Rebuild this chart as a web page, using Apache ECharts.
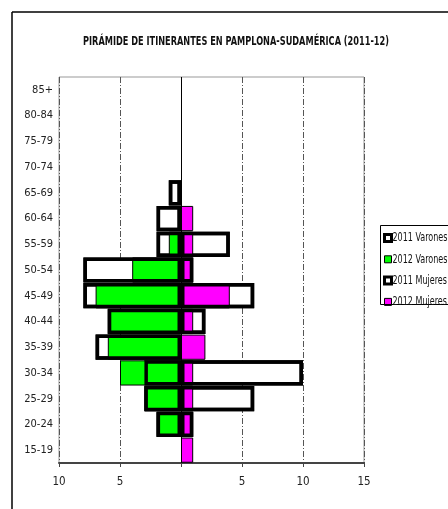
<!DOCTYPE html>
<html>
<head>
<meta charset="utf-8">
<script src="https://cdn.jsdelivr.net/npm/echarts@6/dist/echarts.min.js"></script>
<style>
html,body{margin:0;padding:0;background:#fff;}
#chart{width:448px;height:509px;}
</style>
</head>
<body>
<div id="chart"></div>
<script>
const FONT = "'Liberation Sans Narrow', 'DejaVu Sans Condensed', 'Liberation Sans', Arial, sans-serif";

const titleText = 'PIRÁMIDE DE ITINERANTES EN PAMPLONA-SUDAMÉRICA (2011-12)';
const ageGroups = ['15-19','20-24','25-29','30-34','35-39','40-44','45-49','50-54','55-59','60-64','65-69','70-74','75-79','80-84','85+'];
const varones2011 = [0,2,3,3,7,6,8,8,2,2,1,0,0,0,0];
const varones2012 = [0,2,3,5,6,6,7,4,1,0,0,0,0,0,0];
const mujeres2011 = [0,1,6,10,0,2,6,1,4,0,0,0,0,0,0];
const mujeres2012 = [1,1,1,1,2,1,4,1,1,1,0,0,0,0,0];
const xTicks = [-10,-5,0,5,10,15];
const legendNames = ['2011 Varones','2012 Varones','2011 Mujeres','2012 Mujeres'];

const neg = a => a.map(v => v === 0 ? null : -v);
const pos = a => a.map(v => v === 0 ? null : v);

const mc = document.createElement('canvas').getContext('2d');
function fitScale(text, font, target) {
  mc.font = font;
  return Math.min(1, target / mc.measureText(text).width);
}

const TITLE_FONT = 'bold 13px ' + FONT;
const titleScale = fitScale(titleText, TITLE_FONT, 306);

const LEG_FONT = '12.5px ' + FONT;
const legScale = fitScale('2011 Varones', LEG_FONT, 55);
const legendY = [238, 259.5, 281, 302];

const chart = echarts.init(document.getElementById('chart'), null, {renderer:'canvas'});

const common = {type:'bar', barGap:'-100%', barCategoryGap:'2%'};
const thick = 3.5;

const graphics = [
  {type:'text', x:83, y:42, scaleX:titleScale, z:100,
    style:{text:titleText, x:0, y:0, textAlign:'left', textVerticalAlign:'middle', verticalAlign:'middle',
      font:TITLE_FONT, fill:'#111'}},
  {type:'line', shape:{x1:12, y1:12, x2:448, y2:12}, style:{stroke:'#000', lineWidth:1.5}, z:100},
  {type:'line', shape:{x1:12, y1:12, x2:12, y2:509}, style:{stroke:'#000', lineWidth:1.5}, z:100},
  {type:'rect', shape:{x:380.5, y:225.5, width:100, height:79}, style:{fill:'none', stroke:'#000', lineWidth:1}, z:100}
];
legendNames.forEach((n, i) => {
  graphics.push({type:'text', x:392.5, y:legendY[i], scaleX:legScale, z:100,
    style:{text:n, x:0, y:0, textAlign:'left', textVerticalAlign:'middle', verticalAlign:'middle',
      font:LEG_FONT, fill:'#111'}});
});

const option = {
  animation:false,
  backgroundColor:'#fff',
  legend:{
    orient:'vertical', left:378, top:227, itemWidth:7, itemHeight:7, itemGap:9.3, icon:'rect',
    data:legendNames.map(n => n.indexOf('2011') === 0
      ? {name:n, itemStyle:{color:'#fff', borderColor:'#000', borderWidth:3}}
      : {name:n, itemStyle:{borderWidth:1}}),
    textStyle:{fontFamily:FONT, fontSize:10, color:'rgba(0,0,0,0)', lineHeight:12},
    selectedMode:false
  },
  grid:{left:59, right:84, top:77, bottom:46, show:true, borderColor:'#999', borderWidth:1, containLabel:false},
  xAxis:{
    type:'value', min:xTicks[0], max:xTicks[xTicks.length-1], interval:5,
    axisLine:{show:true, onZero:false, lineStyle:{color:'#444', width:2}},
    axisTick:{show:true, length:4, lineStyle:{color:'#444'}},
    axisLabel:{fontFamily:FONT, fontSize:11.5, color:'#222', margin:13,
      formatter:v => v === 0 ? '' : String(Math.abs(v))},
    splitLine:{show:true, lineStyle:{color:'#555', width:1, type:[6,2,1,2]}}
  },
  yAxis:{
    type:'category', data:ageGroups,
    axisLine:{show:false}, axisTick:{show:false},
    axisLabel:{fontFamily:FONT, fontSize:11, color:'#222', margin:6}
  },
  graphic:graphics,
  series:[
    Object.assign({}, common, {name:'2011 Varones', data:neg(varones2011), z:2,
      itemStyle:{color:'#fff', borderColor:'#000', borderWidth:thick}}),
    Object.assign({}, common, {name:'2011 Mujeres', data:pos(mujeres2011), z:2,
      itemStyle:{color:'#fff', borderColor:'#000', borderWidth:thick}}),
    Object.assign({}, common, {name:'2012 Varones', data:neg(varones2012), z:3,
      itemStyle:{color:'#00ff00', borderColor:'#000', borderWidth:1}}),
    Object.assign({}, common, {name:'2012 Mujeres', data:pos(mujeres2012), z:3,
      itemStyle:{color:'#ff00ff', borderColor:'#000', borderWidth:1}}),
    Object.assign({}, common, {name:'2011 Varones outline', data:neg(varones2011), z:4,
      itemStyle:{color:'rgba(0,0,0,0)', borderColor:'#000', borderWidth:thick}, silent:true}),
    Object.assign({}, common, {name:'2011 Mujeres outline', data:pos(mujeres2011), z:4,
      itemStyle:{color:'rgba(0,0,0,0)', borderColor:'#000', borderWidth:thick}, silent:true,
      markLine:{silent:true, symbol:'none', label:{show:false},
        lineStyle:{color:'#000', width:1, type:'solid'}, data:[{xAxis:0}]}})
  ]
};
chart.setOption(option);
</script>
</body>
</html>
